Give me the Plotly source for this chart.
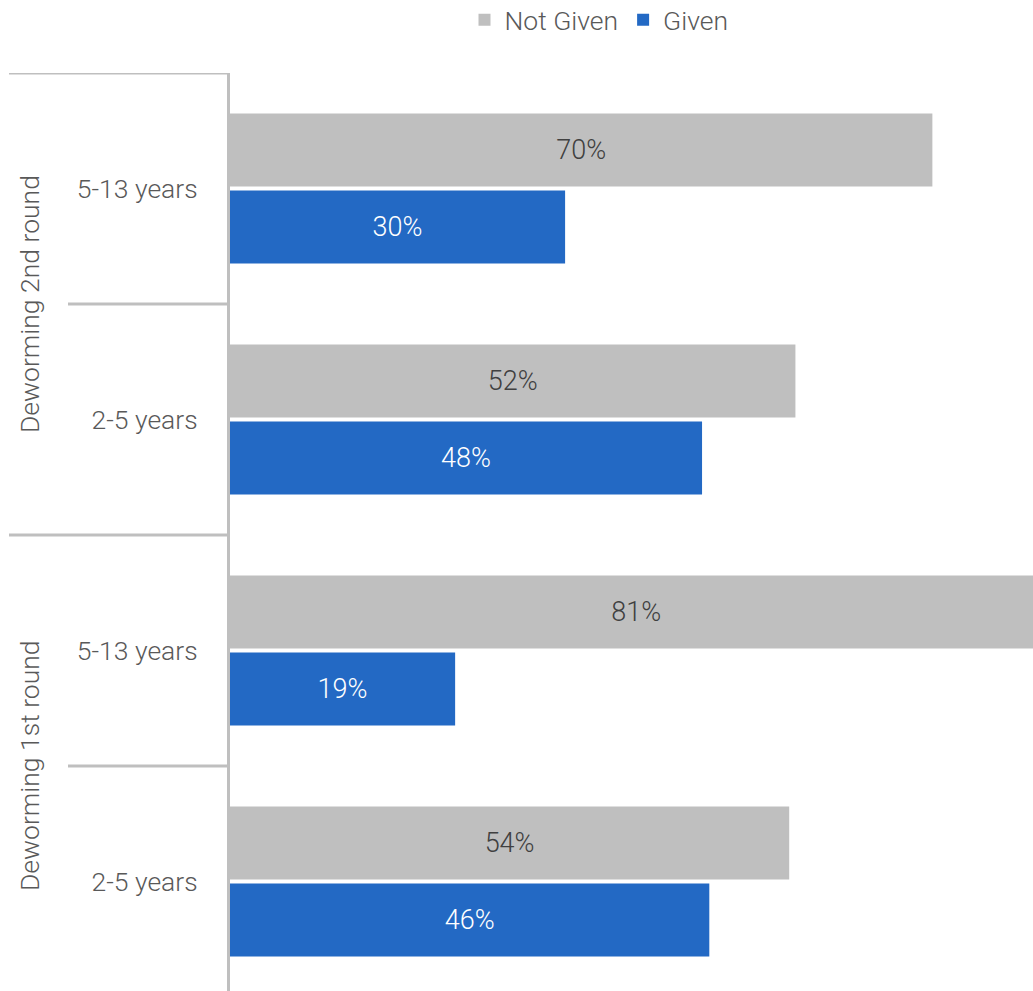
import plotly.graph_objects as go

# Categories (bottom to top)
categories = ["r1_2-5", "r1_5-13", "r2_2-5", "r2_5-13"]
tick_labels = ["2-5 years", "5-13 years", "2-5 years", "5-13 years"]
group_labels = ["Deworming 1st round", "Deworming 2nd round"]

# Bar lengths (percent scale)
not_given_values = [53.9, 78.3, 54.5, 67.7]
given_values = [46.2, 21.7, 45.5, 32.3]
# Printed data labels
not_given_labels = ["54%", "81%", "52%", "70%"]
given_labels = ["46%", "19%", "48%", "30%"]

GREY = "#BFBFBF"
BLUE = "#2369C4"
TEXT = "#595959"
FONT = "Roboto"
FS = 26.5

fig = go.Figure()
fig.add_trace(go.Bar(
    y=categories, x=given_values, name="Given", orientation="h",
    marker=dict(color=BLUE, line=dict(width=0)),
    text=given_labels, textposition="inside", insidetextanchor="middle",
    textangle=0, constraintext="none",
    textfont=dict(color="white", size=27, family=FONT, weight=300),
    legendrank=2,
))
fig.add_trace(go.Bar(
    y=categories, x=not_given_values, name="Not Given", orientation="h",
    marker=dict(color=GREY, line=dict(width=0)),
    text=not_given_labels, textposition="inside", insidetextanchor="middle",
    textangle=0, constraintext="none",
    textfont=dict(color="#404040", size=27, family=FONT, weight=300),
    legendrank=1,
))

L, W, H, T = 230, 1033, 991, 73
PW = W - L
PH = H - T

def px(xpix):
    return (xpix - L) / PW

shapes = []
for yv, x0 in [(3.5, 9), (2.5, 68), (1.5, 9), (0.5, 68)]:
    shapes.append(dict(type="line", xref="paper", yref="y", x0=px(x0), x1=0,
                       y0=yv, y1=yv, line=dict(color=GREY, width=3)))

annotations = []
for yv, txt in [(0.5, group_labels[0]), (2.5, group_labels[1])]:
    annotations.append(dict(xref="paper", yref="y", x=px(29), y=yv, text=txt,
                            textangle=-90, showarrow=False, xanchor="center",
                            yanchor="middle",
                            font=dict(size=FS, color=TEXT, family=FONT, weight=300)))

span = PH / 231.0
fig.update_layout(
    width=W, height=H,
    margin=dict(l=L, r=0, t=T, b=0, pad=0, autoexpand=False),
    paper_bgcolor="white", plot_bgcolor="white",
    barmode="group", bargap=0.333, bargroupgap=0.052,
    font=dict(family=FONT, color=TEXT, size=FS, weight=300),
    showlegend=True,
    legend=dict(orientation="h", x=px(599), xanchor="center",
                y=1 + (T - 20) / PH, yref="paper", yanchor="middle",
                font=dict(size=FS, color=TEXT, family=FONT, weight=300),
                itemwidth=30, traceorder="normal", bgcolor="rgba(0,0,0,0)"),
    xaxis=dict(range=[0, 77.4], visible=False, showgrid=False, zeroline=False),
    yaxis=dict(type="category", categoryorder="array", categoryarray=categories,
               tickmode="array", tickvals=categories, ticktext=tick_labels,
               range=[3.5 - span, 3.5], showgrid=False, zeroline=False,
               showline=True, linecolor=GREY, linewidth=3, ticks="",
               ticklabelstandoff=24, automargin=False,
               tickfont=dict(size=FS, color=TEXT, family=FONT, weight=300)),
    shapes=shapes, annotations=annotations,
    uniformtext=dict(mode=False),
)

fig.write_html("out.html", config={"displayModeBar": False},
               post_script="document.body.style.margin='0';document.body.style.overflow='hidden';")
